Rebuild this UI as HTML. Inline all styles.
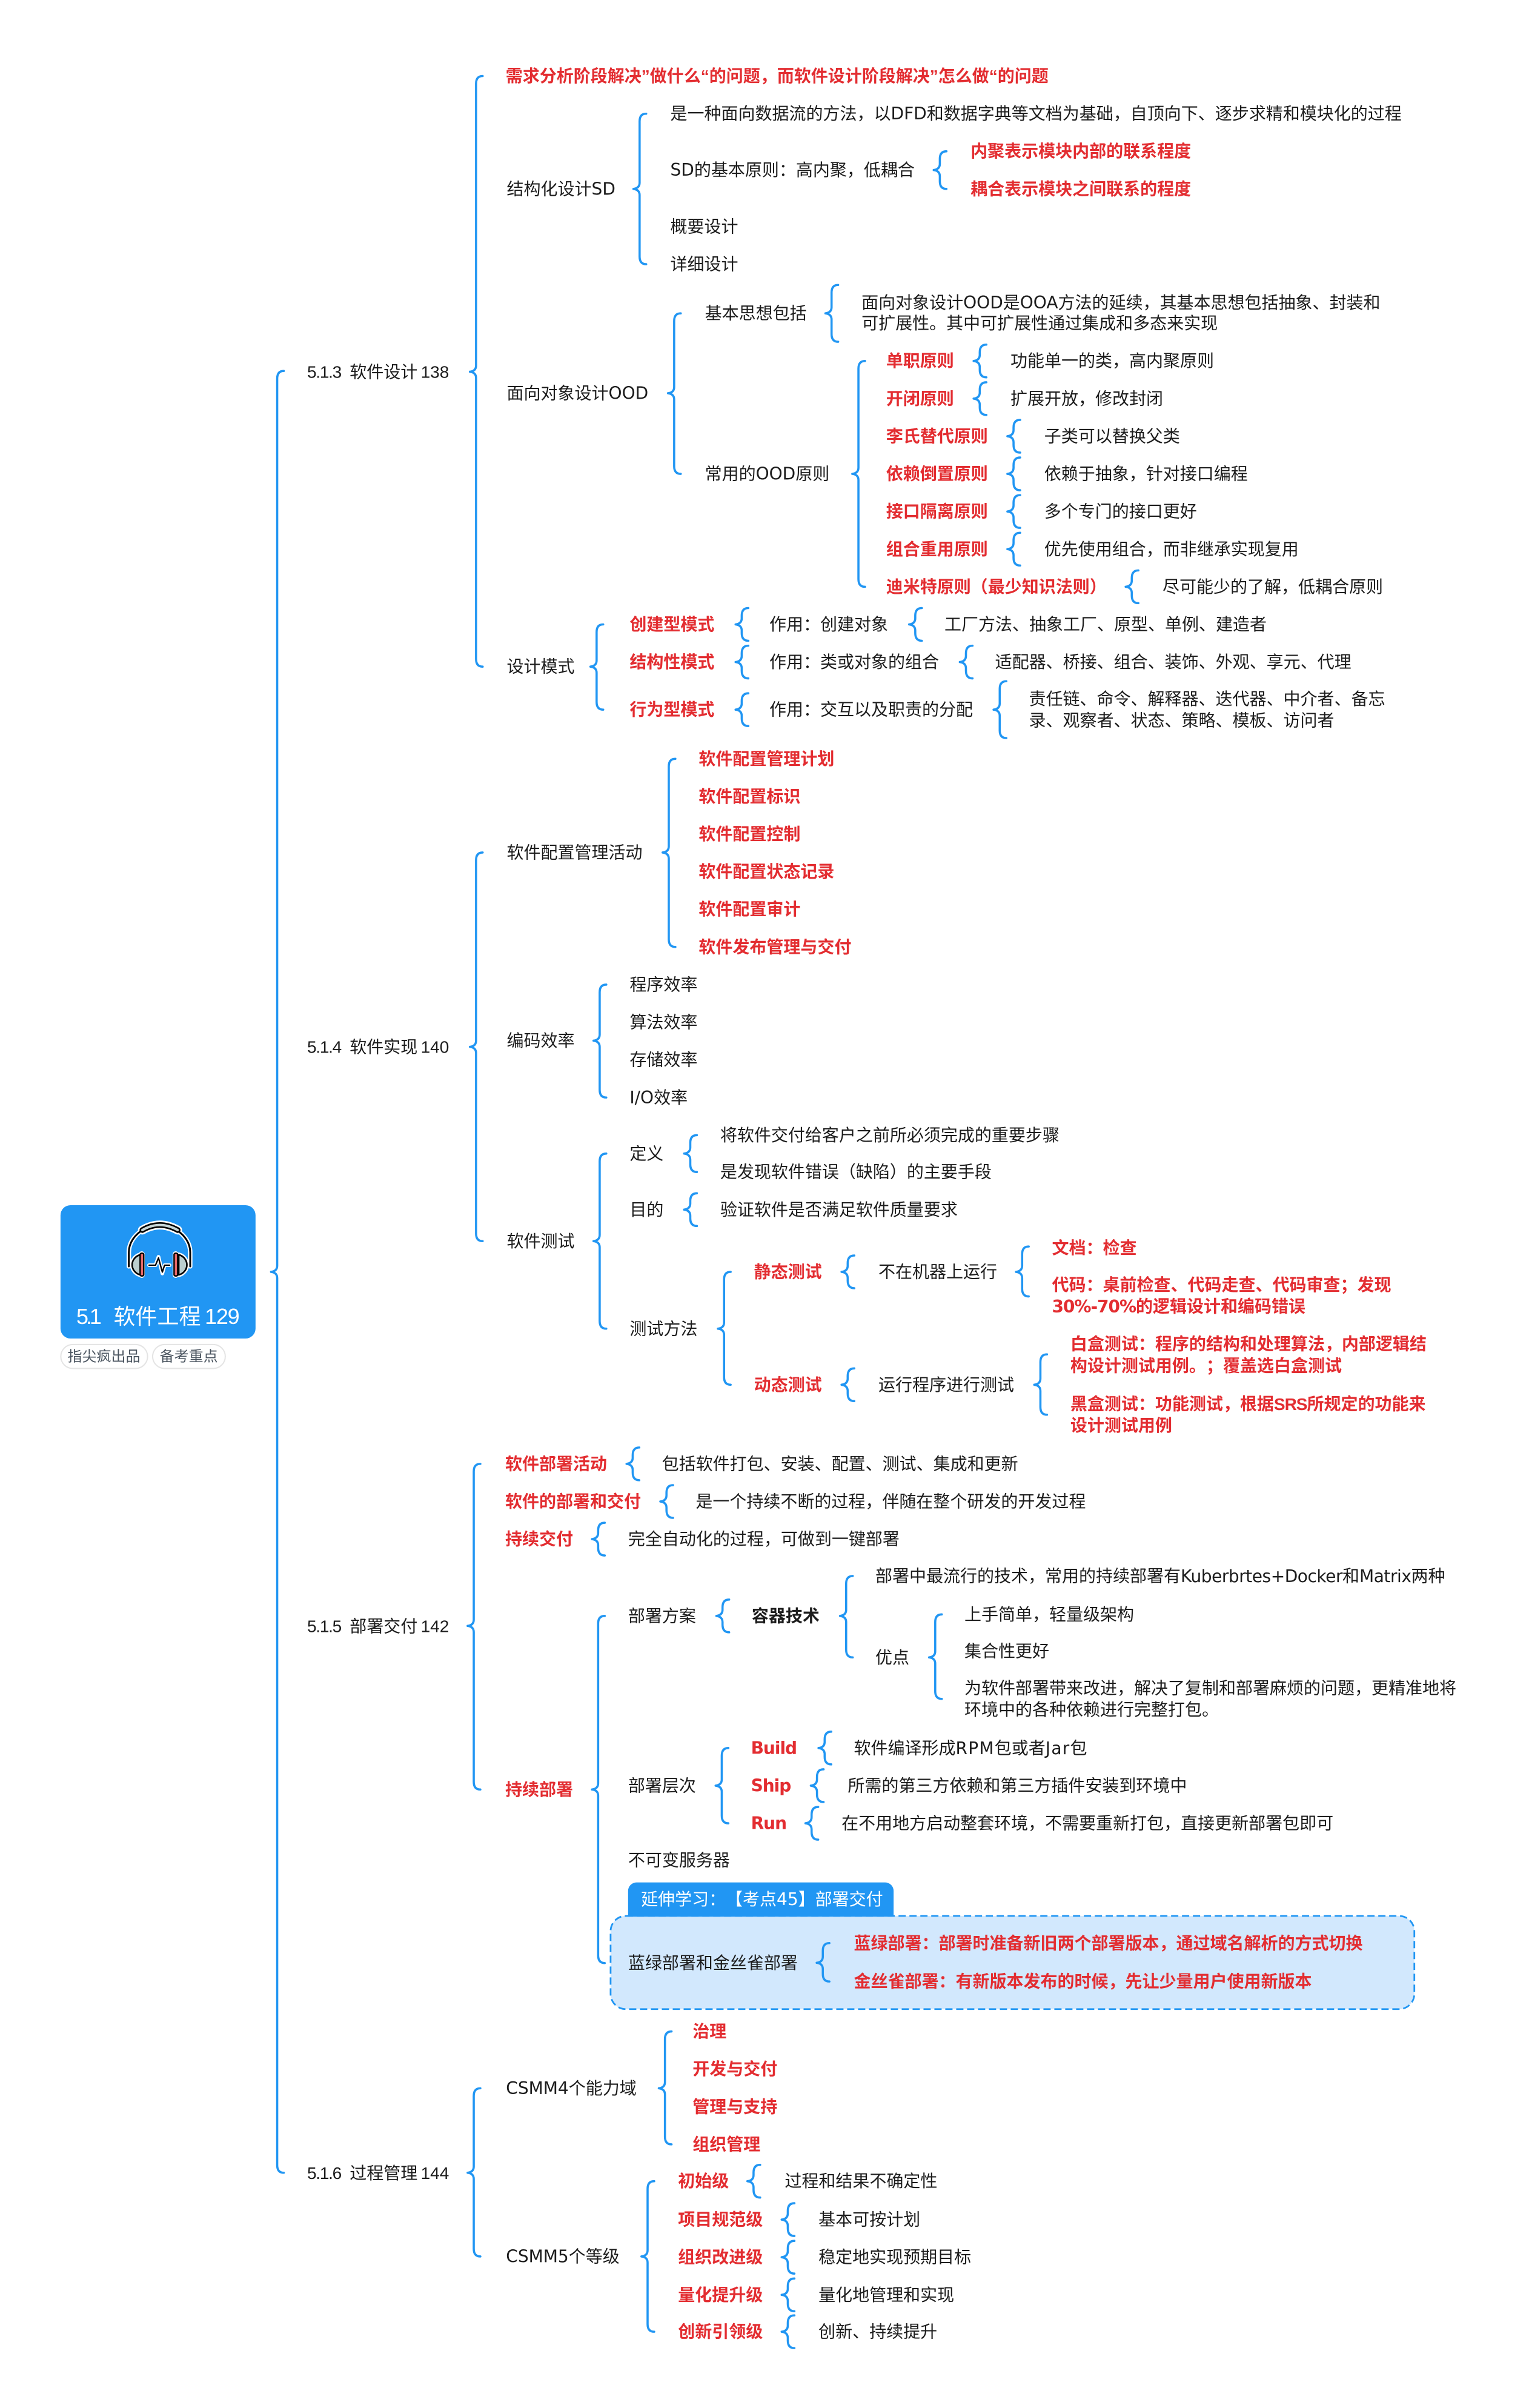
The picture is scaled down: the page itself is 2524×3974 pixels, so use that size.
<!DOCTYPE html>
<html lang="zh-CN"><head><meta charset="utf-8"><title>5.1 软件工程</title>
<style>
html,body{margin:0;padding:0;background:#fff}
svg{display:block}
text{font-family:"DejaVu Sans","Noto Sans CJK SC",sans-serif;font-size:11.05px;fill:#1c1c1c;dominant-baseline:central;text-spacing-trim:space-all}
.r{fill:#e32d31;font-weight:700}
.b{font-weight:700}
.n{font-family:"Liberation Sans","Noto Sans CJK SC",sans-serif}
.br path,.br use{fill:none;stroke:#2196f3;stroke-width:1.4;stroke-linecap:round;stroke-linejoin:round}
</style></head><body>
<svg xmlns="http://www.w3.org/2000/svg" width="2524" height="3974" viewBox="0 0 995.66 1567.65">
<defs><path id="s" d="M0,0q4,-.5 4,-4v-1.65q0,-5 4.3,-5M0,0q4,.5 4,4v1.65q0,5 4.3,5"/></defs>
<rect width="995.66" height="1567.65" fill="#fff"/>

<!-- highlighted box -->
<rect x="397.6" y="1247.3" width="523.4" height="60.7" rx="10" fill="#d2e8fd" stroke="#2196f3" stroke-width="1.1" stroke-dasharray="4.7 2.4"/>
<path d="M409,1247.8V1231a5.5,5.5 0 0 1 5.5,-5.5H576.4a5.5,5.5 0 0 1 5.5,5.5V1247.8Z" fill="#2196f3"/>
<text y="1236.3" style="fill:#fff"><tspan x="417.4">延伸学习：</tspan><tspan x="472.6">【考点45】部署交付</tspan></text>

<!-- root -->
<rect x="39.4" y="784.6" width="127" height="86.8" rx="6.5" fill="#2196f3"/>
<g transform="scale(.39448) translate(60 1950) scale(.33333)" fill="none" stroke-linejoin="round" stroke-linecap="round">
<g stroke="#fff" stroke-width="22">
<path d="M458,420V350C458,300 490,265 518,245M762,420V350C762,300 730,265 702,245"/>
<path stroke-width="44" d="M525,240Q610,190 700,240"/>
<path d="M515,362A56,52 0 0 0 515,462ZM705,362A56,52 0 0 1 705,462Z" fill="#fff"/>
<path stroke-width="30" d="M522,360V462M690,360V462"/>
<path stroke-width="18" d="M558,414H590L605,372L624,455L635,414H660"/>
</g>
<path stroke="#000" stroke-width="9" d="M458,420V350C458,300 490,265 518,245M762,420V350C762,300 730,265 702,245"/>
<path stroke="#000" stroke-width="28" d="M525,240Q610,190 700,240"/>
<path stroke="#c8d6d6" stroke-width="12" d="M525,240Q610,190 700,240"/>
<path d="M515,362A56,52 0 0 0 515,462ZM705,362A56,52 0 0 1 705,462Z" fill="#bccfcf" stroke="#000" stroke-width="8"/>
<rect x="514" y="355" width="18" height="112" rx="6" fill="#ea6a6a" stroke="#000" stroke-width="7"/>
<rect x="682" y="355" width="18" height="112" rx="6" fill="#ea6a6a" stroke="#000" stroke-width="7"/>
<path stroke="#000" stroke-width="7" d="M558,414H590L605,378L624,448L635,414H660"/>
</g>
<text class="n" y="856.8" style="fill:#fff;font-size:14.2px"><tspan x="49.7" letter-spacing="-1.6">5.1</tspan><tspan x="74">软件工程</tspan><tspan x="133.4" letter-spacing="-.5">129</tspan></text>
<rect x="39.6" y="875.3" width="56.5" height="15.6" rx="7.8" fill="#fff" stroke="#e4e4e4" stroke-width=".8"/>
<rect x="99.4" y="875.3" width="47.3" height="15.6" rx="7.8" fill="#fff" stroke="#e4e4e4" stroke-width=".8"/>
<text x="44" y="883.1" style="font-size:9.47px;fill:#4b5560">指尖疯出品</text>
<text x="104" y="883.1" style="font-size:9.47px;fill:#4b5560">备考重点</text>

<!-- braces -->
<g class="br">
<path d="M176.5,828q4,-.5 4,-4v-577.5q0,-5 4.3,-5M176.5,828q4,.5 4,4v577.5q0,5 4.3,5"/>
<path d="M306,242q4,-.5 4,-4v-183.5q0,-5 4.3,-5M306,242q4,.5 4,4v183q0,5 4.3,5"/>
<path d="M412.5,123q4,-.5 4,-4v-40q0,-5 4.3,-5M412.5,123q4,.5 4,4v40q0,5 4.3,5"/>
<path d="M608,110.7q4,-.5 4,-4v-3.2q0,-5 4.3,-5M608,110.7q4,.5 4,4v3.3q0,5 4.3,5"/>
<path d="M435,256q4,-.5 4,-4v-43q0,-5 4.3,-5M435,256q4,.5 4,4v43.5q0,5 4.3,5"/>
<path d="M537.5,204q4,-.5 4,-4v-9.5q0,-5 4.3,-5M537.5,204q4,.5 4,4v9.5q0,5 4.3,5"/>
<path d="M555,308.5q4,-.5 4,-4v-64.5q0,-5 4.3,-5M555,308.5q4,.5 4,4v64.5q0,5 4.3,5"/>
<use href="#s" x="634" y="235"/><use href="#s" x="634" y="259.5"/>
<use href="#s" x="656" y="284"/><use href="#s" x="656" y="308.5"/><use href="#s" x="656" y="333"/><use href="#s" x="656" y="357.5"/>
<use href="#s" x="733" y="382"/>
<path d="M384.5,434q4,-.5 4,-4v-18.5q0,-5 4.3,-5M384.5,434q4,.5 4,4v19q0,5 4.3,5"/>
<use href="#s" x="479" y="406.5"/><use href="#s" x="479" y="431"/><use href="#s" x="479" y="462"/>
<use href="#s" x="592" y="406.5"/><use href="#s" x="625" y="431"/>
<path d="M647,462q4,-.5 4,-4v-9.5q0,-5 4.3,-5M647,462q4,.5 4,4v9.5q0,5 4.3,5"/>
<path d="M306,681.5q4,-.5 4,-4v-117.5q0,-5 4.3,-5M306,681.5q4,.5 4,4v117.5q0,5 4.3,5"/>
<path d="M431.5,555q4,-.5 4,-4v-52q0,-5 4.3,-5M431.5,555q4,.5 4,4v52.5q0,5 4.3,5"/>
<path d="M386.5,677.5q4,-.5 4,-4v-27.5q0,-5 4.3,-5M386.5,677.5q4,.5 4,4v28q0,5 4.3,5"/>
<path d="M386.5,808q4,-.5 4,-4v-48q0,-5 4.3,-5M386.5,808q4,.5 4,4v48q0,5 4.3,5"/>
<path d="M445.5,751q4,-.5 4,-4v-3q0,-5 4.3,-5M445.5,751q4,.5 4,4v3q0,5 4.3,5"/>
<use href="#s" x="445.5" y="787.5"/>
<path d="M467.5,865q4,-.5 4,-4v-28q0,-5 4.3,-5M467.5,865q4,.5 4,4v27.5q0,5 4.3,5"/>
<use href="#s" x="548" y="828"/><use href="#s" x="548" y="901.5"/>
<path d="M661.6,828q4,-.5 4,-4v-7.5q0,-5 4.3,-5M661.6,828q4,.5 4,4v7q0,5 4.3,5"/>
<path d="M673.5,901.5q4,-.5 4,-4v-10.8q0,-5 4.3,-5M673.5,901.5q4,.5 4,4v10.5q0,5 4.3,5"/>
<path d="M304.5,1058.5q4,-.5 4,-4v-96.5q0,-5 4.3,-5M304.5,1058.5q4,.5 4,4v97.5q0,5 4.3,5"/>
<use href="#s" x="408" y="953"/><use href="#s" x="430" y="977.5"/><use href="#s" x="385.5" y="1002"/>
<path d="M385.5,1165q4,-.5 4,-4v-104q0,-5 4.3,-5M385.5,1165q4,.5 4,4v104q0,5 4.3,5"/>
<use href="#s" x="466.5" y="1052"/>
<path d="M547,1052q4,-.5 4,-4v-17q0,-5 4.3,-5M547,1052q4,.5 4,4v18q0,5 4.3,5"/>
<path d="M605,1079q4,-.5 4,-4v-19q0,-5 4.3,-5M605,1079q4,.5 4,4v18q0,5 4.3,5"/>
<path d="M466,1162.5q4,-.5 4,-4v-15.5q0,-5 4.3,-5M466,1162.5q4,.5 4,4v15.5q0,5 4.3,5"/>
<use href="#s" x="533" y="1138"/><use href="#s" x="528" y="1162.5"/><use href="#s" x="524.5" y="1187"/>
<path d="M531.8,1277.8q4,-.5 4,-4v-3.8q0,-5 4.3,-5M531.8,1277.8q4,.5 4,4v3.2q0,5 4.3,5"/>
<path d="M304.5,1414.5q4,-.5 4,-4v-46q0,-5 4.3,-5M304.5,1414.5q4,.5 4,4v45.5q0,5 4.3,5"/>
<path d="M429,1359.5q4,-.5 4,-4v-28q0,-5 4.3,-5M429,1359.5q4,.5 4,4v27.5q0,5 4.3,5"/>
<path d="M417.7,1469q4,-.5 4,-4v-40q0,-5 4.3,-5M417.7,1469q4,.5 4,4v40q0,5 4.3,5"/>
<use href="#s" x="486.7" y="1420"/><use href="#s" x="509" y="1445"/><use href="#s" x="509" y="1469.5"/><use href="#s" x="509" y="1494"/><use href="#s" x="509" y="1518"/>
</g>

<!-- level 1 -->
<text class="n" y="242"><tspan x="200" letter-spacing="-.5">5.1.3</tspan><tspan x="227.7">软件设计</tspan><tspan x="274">138</tspan></text>
<text class="n" y="681.5"><tspan x="200" letter-spacing="-.5">5.1.4</tspan><tspan x="227.7">软件实现</tspan><tspan x="274">140</tspan></text>
<text class="n" y="1058.5"><tspan x="200" letter-spacing="-.5">5.1.5</tspan><tspan x="227.7">部署交付</tspan><tspan x="274">142</tspan></text>
<text class="n" y="1414.5"><tspan x="200" letter-spacing="-.5">5.1.6</tspan><tspan x="227.7">过程管理</tspan><tspan x="274">144</tspan></text>

<!-- 5.1.3 -->
<text class="r n" x="329.3" y="49.5">需求分析阶段解决”做什么“的问题，而软件设计阶段解决”怎么做“的问题</text>
<text x="330" y="123">结构化设计SD</text>
<text x="436.5" y="74">是一种面向数据流的方法，以DFD和数据字典等文档为基础，自顶向下、逐步求精和模块化的过程</text>
<text x="436.5" y="110.7">SD的基本原则：高内聚，低耦合</text>
<text class="r" x="632" y="98.5">内聚表示模块内部的联系程度</text>
<text class="r" x="632" y="123">耦合表示模块之间联系的程度</text>
<text x="436.5" y="147.5">概要设计</text>
<text x="436.5" y="172">详细设计</text>
<text x="330" y="256">面向对象设计OOD</text>
<text x="459" y="204">基本思想包括</text>
<text x="561" y="197">面向对象设计OOD是OOA方法的延续，其基本思想包括抽象、封装和</text>
<text x="561" y="210.5">可扩展性。其中可扩展性通过集成和多态来实现</text>
<text x="459" y="308.5">常用的OOD原则</text>
<text class="r" x="577" y="235">单职原则</text><text x="658" y="235">功能单一的类，高内聚原则</text>
<text class="r" x="577" y="259.5">开闭原则</text><text x="658" y="259.5">扩展开放，修改封闭</text>
<text class="r" x="577" y="284">李氏替代原则</text><text x="680" y="284">子类可以替换父类</text>
<text class="r" x="577" y="308.5">依赖倒置原则</text><text x="680" y="308.5">依赖于抽象，针对接口编程</text>
<text class="r" x="577" y="333">接口隔离原则</text><text x="680" y="333">多个专门的接口更好</text>
<text class="r" x="577" y="357.5">组合重用原则</text><text x="680" y="357.5">优先使用组合，而非继承实现复用</text>
<text class="r" x="577" y="382">迪米特原则（最少知识法则）</text><text x="757" y="382">尽可能少的了解，低耦合原则</text>
<text x="330" y="434">设计模式</text>
<text class="r" x="410" y="406.5">创建型模式</text><text x="501" y="406.5">作用：创建对象</text><text x="615" y="406.5">工厂方法、抽象工厂、原型、单例、建造者</text>
<text class="r" x="410" y="431">结构性模式</text><text x="501" y="431">作用：类或对象的组合</text><text x="648" y="431">适配器、桥接、组合、装饰、外观、享元、代理</text>
<text class="r" x="410" y="462">行为型模式</text><text x="501" y="462">作用：交互以及职责的分配</text>
<text x="670" y="455">责任链、命令、解释器、迭代器、中介者、备忘</text>
<text x="670" y="469">录、观察者、状态、策略、模板、访问者</text>

<!-- 5.1.4 -->
<text x="330" y="555">软件配置管理活动</text>
<text class="r" x="455" y="494">软件配置管理计划</text>
<text class="r" x="455" y="518.5">软件配置标识</text>
<text class="r" x="455" y="543">软件配置控制</text>
<text class="r" x="455" y="567.5">软件配置状态记录</text>
<text class="r" x="455" y="592">软件配置审计</text>
<text class="r" x="455" y="616.5">软件发布管理与交付</text>
<text x="330" y="677.5">编码效率</text>
<text x="410" y="641">程序效率</text>
<text x="410" y="665.5">算法效率</text>
<text x="410" y="690">存储效率</text>
<text x="410" y="714.5">I/O效率</text>
<text x="330" y="808">软件测试</text>
<text x="410" y="751">定义</text>
<text x="469" y="739">将软件交付给客户之前所必须完成的重要步骤</text>
<text x="469" y="763">是发现软件错误（缺陷）的主要手段</text>
<text x="410" y="787.5">目的</text><text x="469" y="787.5">验证软件是否满足软件质量要求</text>
<text x="410" y="865">测试方法</text>
<text class="r" x="491" y="828">静态测试</text><text x="572" y="828">不在机器上运行</text>
<text class="r" x="685" y="812.5">文档：检查</text>
<text class="r" x="685" y="836.5">代码：桌前检查、代码走查、代码审查；发现</text>
<text class="r" x="685" y="850.5"><tspan letter-spacing="-.4">30%-70%</tspan>的逻辑设计和编码错误</text>
<text class="r" x="491" y="901.5">动态测试</text><text x="572" y="901.5">运行程序进行测试</text>
<text class="r" x="697" y="875">白盒测试：程序的结构和处理算法，内部逻辑结</text>
<text class="r" y="889"><tspan x="697">构设计测试用例。</tspan><tspan x="785.4">；覆盖选白盒测试</tspan></text>
<text class="r" x="697" y="914">黑盒测试：功能测试，根据<tspan class="n" letter-spacing="-.4">SRS</tspan>所规定的功能来</text>
<text class="r" x="697" y="928">设计测试用例</text>

<!-- 5.1.5 -->
<text class="r" x="329" y="953">软件部署活动</text><text x="431" y="953">包括软件打包、安装、配置、测试、集成和更新</text>
<text class="r" x="329" y="977.5">软件的部署和交付</text><text x="453" y="977.5">是一个持续不断的过程，伴随在整个研发的开发过程</text>
<text class="r" x="329" y="1002">持续交付</text><text x="409" y="1002">完全自动化的过程，可做到一键部署</text>
<text class="r" x="329" y="1165">持续部署</text>
<text x="409" y="1052">部署方案</text>
<text class="b" x="489.5" y="1052">容器技术</text>
<text x="570" y="1026">部署中最流行的技术，常用的持续部署有<tspan letter-spacing="-.18">Kuberbrtes+Docker</tspan>和<tspan letter-spacing="-.18">Matrix</tspan>两种</text>
<text x="570" y="1079">优点</text>
<text x="628" y="1051">上手简单，轻量级架构</text>
<text x="628" y="1075">集合性更好</text>
<text x="628" y="1099">为软件部署带来改进，解决了复制和部署麻烦的问题，更精准地将</text>
<text x="628" y="1113">环境中的各种依赖进行完整打包。</text>
<text x="409" y="1162.5">部署层次</text>
<text class="r" x="489" y="1138" letter-spacing="-.4">Build</text><text x="556" y="1138">软件编译形成<tspan letter-spacing=".5">RPM</tspan>包或者<tspan letter-spacing=".5">Jar</tspan>包</text>
<text class="r" x="489" y="1162.5" letter-spacing="-.4">Ship</text><text x="552" y="1162.5">所需的第三方依赖和第三方插件安装到环境中</text>
<text class="r" x="489" y="1187" letter-spacing="-.4">Run</text><text x="548" y="1187">在不用地方启动整套环境，不需要重新打包，直接更新部署包即可</text>
<text x="409" y="1211">不可变服务器</text>
<text x="409" y="1278">蓝绿部署和金丝雀部署</text>
<text class="r" x="556" y="1265">蓝绿部署：部署时准备新旧两个部署版本，通过域名解析的方式切换</text>
<text class="r" x="556" y="1290">金丝雀部署：有新版本发布的时候，先让少量用户使用新版本</text>

<!-- 5.1.6 -->
<text x="329.5" y="1359.5">CSMM4个能力域</text>
<text class="r" x="451" y="1322.5">治理</text>
<text class="r" x="451" y="1347">开发与交付</text>
<text class="r" x="451" y="1371.5">管理与支持</text>
<text class="r" x="451" y="1396">组织管理</text>
<text x="329.5" y="1469">CSMM5个等级</text>
<text class="r" x="441.5" y="1420">初始级</text><text x="511" y="1420">过程和结果不确定性</text>
<text class="r" x="441.5" y="1445">项目规范级</text><text x="533" y="1445">基本可按计划</text>
<text class="r" x="441.5" y="1469.5">组织改进级</text><text x="533" y="1469.5">稳定地实现预期目标</text>
<text class="r" x="441.5" y="1494">量化提升级</text><text x="533" y="1494">量化地管理和实现</text>
<text class="r" x="441.5" y="1518">创新引领级</text><text x="533" y="1518">创新、持续提升</text>
</svg>
</body></html>
